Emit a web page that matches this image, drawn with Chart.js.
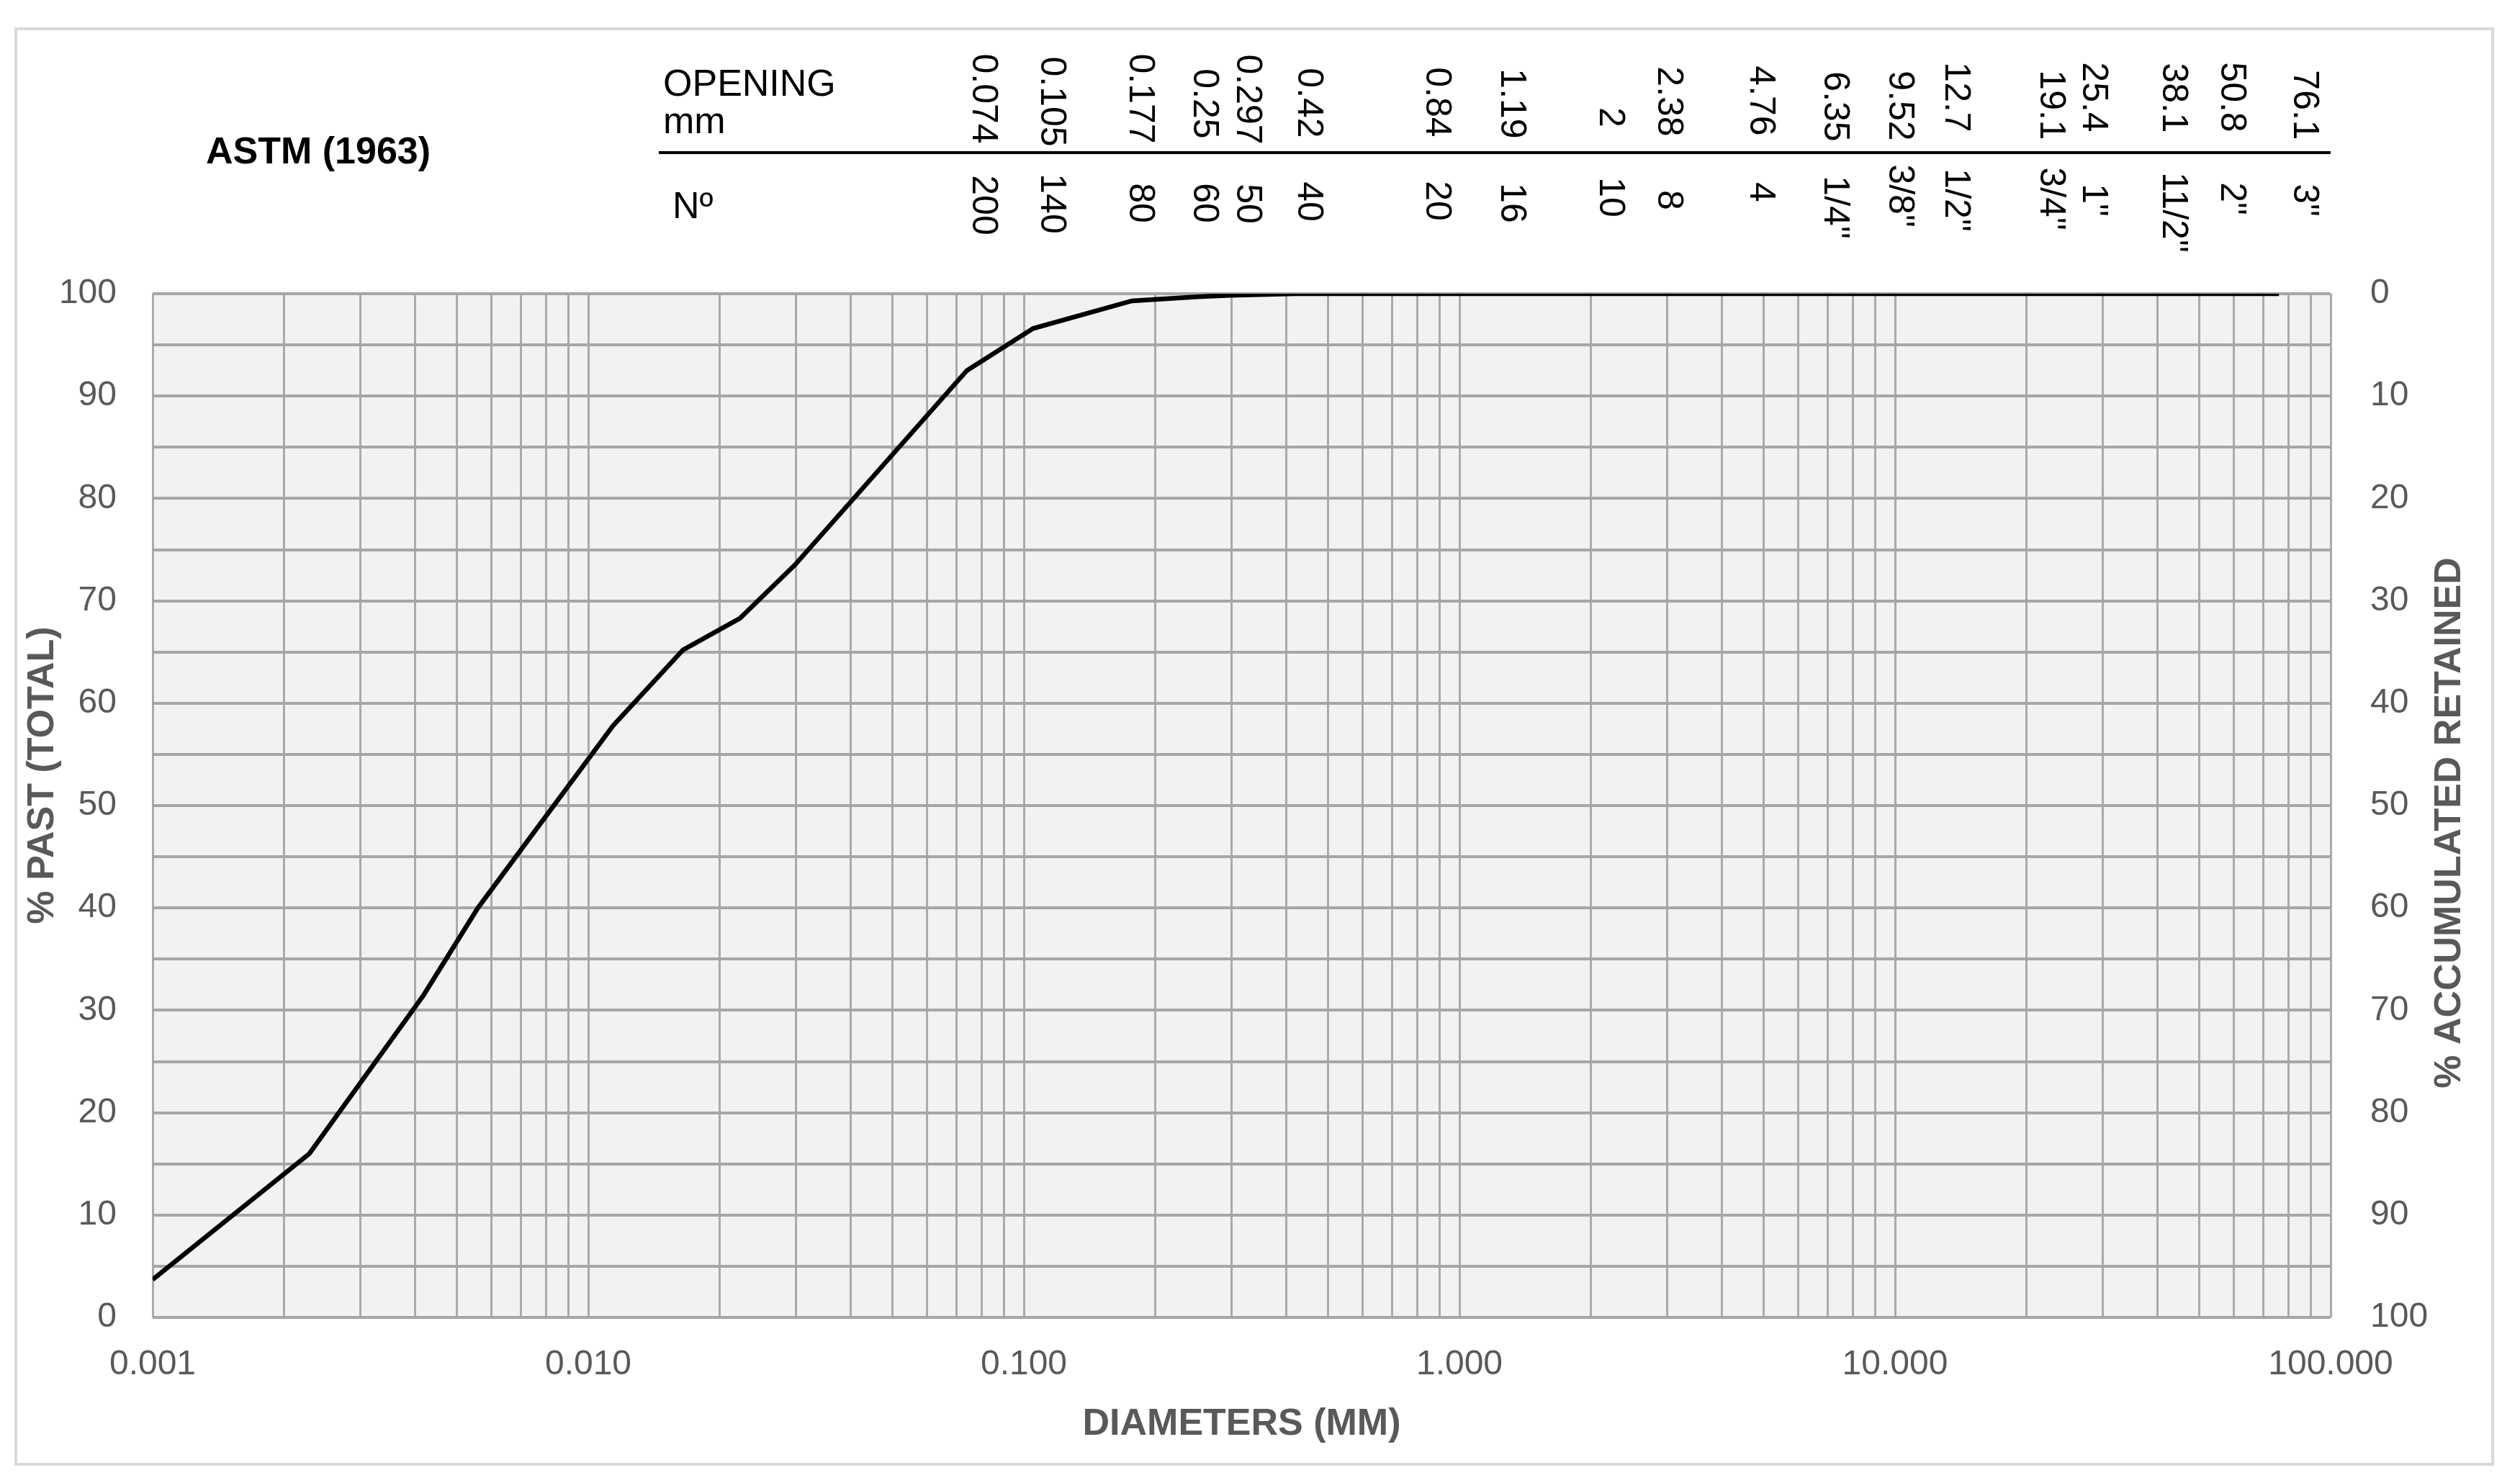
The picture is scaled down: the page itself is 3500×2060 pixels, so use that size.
<!DOCTYPE html>
<html>
<head>
<meta charset="utf-8">
<style>
  html, body { margin: 0; padding: 0; background: #fff; }
</style>
</head>
<body>
<canvas id="myChart" width="3500" height="2060"></canvas>

<script src="https://cdn.jsdelivr.net/npm/chart.js"></script>

<script>
// grading curve (diameter mm -> % passing)
const diameters = [0.001, 0.00229, 0.00419, 0.00558, 0.0114, 0.0165, 0.0223, 0.0298,
  0.074, 0.105, 0.177, 0.25, 0.297, 0.42, 0.84, 1.19, 2, 2.38, 4.76, 6.35, 9.52,
  12.7, 19.1, 25.4, 38.1, 50.8, 76.1];
const passing = [3.7, 16.0, 31.5, 40.0, 57.8, 65.2, 68.3, 73.5,
  92.5, 96.6, 99.3, 99.7, 99.85, 100, 100, 100, 100, 100, 100, 100, 100,
  100, 100, 100, 100, 100, 100];

// ASTM (1963) sieve table shown above the plot
const sieveOpenings = [0.074, 0.105, 0.177, 0.25, 0.297, 0.42, 0.84, 1.19, 2, 2.38,
  4.76, 6.35, 9.52, 12.7, 19.1, 25.4, 38.1, 50.8, 76.1];
const openingLabels = ['0.074', '0.105', '0.177', '0.25', '0.297', '0.42', '0.84', '1.19', '2', '2.38',
  '4.76', '6.35', '9.52', '12.7', '19.1', '25.4', '38.1', '50.8', '76.1'];
const sieveNumbers = ['200', '140', '80', '60', '50', '40', '20', '16', '10', '8',
  '4', '1/4"', '3/8"', '1/2"', '3/4"', '1"', '11/2"', '2"', '3"'];

// axis ticks
const xTickLabels = ['0.001', '0.010', '0.100', '1.000', '10.000', '100.000'];
const leftTickLabels = ['0', '10', '20', '30', '40', '50', '60', '70', '80', '90', '100'];
const rightTickLabels = ['0', '10', '20', '30', '40', '50', '60', '70', '80', '90', '100'];

const FONT = '"Liberation Sans", Arial, sans-serif';
const GREY = '#595959';
Chart.defaults.font.family = FONT;

// small shifts of the header text (px), like the hand-placed labels
const headerDx = [22, 25, 11, 9, 24, 18, 14, 26, 27, 62, 8, 35, 19, 21, 46, 30, 34, 40, 35];
const openingCy = [137, 141, 137, 144, 138, 143, 142, 144, 163, 141, 140, 148, 147, 135, 146, 135, 136, 135, 146];
const numberCy = [285, 283, 282, 282, 283, 280, 279, 282, 274, 278, 267, 288, 272, 278, 276, 278, 295, 276, 278];

const frame = {
  id: 'frame',
  beforeDraw(chart) {
    const { ctx, chartArea: a } = chart;
    ctx.save();
    ctx.fillStyle = '#fff';
    ctx.fillRect(0, 0, chart.width, chart.height);
    ctx.strokeStyle = '#d9d9d9';
    ctx.lineWidth = 4;
    ctx.strokeRect(22, 40, 3440, 1994);
    ctx.fillStyle = '#f2f2f2';
    ctx.fillRect(a.left, a.top, a.right - a.left, a.bottom - a.top);
    ctx.restore();
  }
};

const rotated = (ctx, text, x, y, angle) => {
  ctx.save();
  ctx.translate(x, y);
  ctx.rotate(angle);
  ctx.fillText(text, 0, 0);
  ctx.restore();
};

const header = {
  id: 'header',
  afterDraw(chart) {
    const { ctx, chartArea: a } = chart;
    const xs = chart.scales.x;
    ctx.save();
    ctx.fillStyle = '#000';

    ctx.font = 'bold 52px ' + FONT;
    ctx.textAlign = 'center';
    ctx.textBaseline = 'middle';
    ctx.fillText('ASTM (1963)', 442, 213);

    ctx.font = '52px ' + FONT;
    ctx.textAlign = 'left';
    ctx.textBaseline = 'alphabetic';
    ctx.fillText('OPENING', 921, 133);
    ctx.fillText('mm', 921, 185);
    ctx.fillText('Nº', 934, 303);

    ctx.strokeStyle = '#000';
    ctx.lineWidth = 4;
    ctx.beginPath();
    ctx.moveTo(915, 212);
    ctx.lineTo(a.right, 212);
    ctx.stroke();

    ctx.font = '50px ' + FONT;
    ctx.textAlign = 'center';
    ctx.textBaseline = 'middle';
    sieveOpenings.forEach((d, i) => {
      const x = xs.getPixelForValue(d) + headerDx[i];
      rotated(ctx, openingLabels[i], x, openingCy[i], Math.PI / 2);
      rotated(ctx, sieveNumbers[i], x, numberCy[i], Math.PI / 2);
    });

    // axis titles on the sides
    ctx.fillStyle = GREY;
    ctx.font = 'bold 52px ' + FONT;
    rotated(ctx, '% PAST (TOTAL)', 60, 1077, -Math.PI / 2);
    rotated(ctx, '% ACCUMULATED RETAINED', 3403, 1143, -Math.PI / 2);
    ctx.restore();
  }
};

const isDecade = v => Math.abs(Math.log10(v) - Math.round(Math.log10(v))) < 1e-9;

new Chart(document.getElementById('myChart'), {
  type: 'line',
  data: {
    datasets: [{
      data: diameters.map((d, i) => ({ x: d, y: passing[i] })),
      borderColor: '#000',
      borderWidth: 6.5,
      pointRadius: 0,
      tension: 0,
      fill: false,
      yAxisID: 'y'
    }]
  },
  options: {
    responsive: false,
    animation: false,
    devicePixelRatio: 1,
    layout: { padding: { top: 408, left: 0, right: 0, bottom: 0 } },
    plugins: {
      legend: { display: false },
      tooltip: { enabled: false }
    },
    scales: {
      x: {
        type: 'logarithmic',
        min: 0.001,
        max: 100,
        afterBuildTicks(scale) {
          const t = [];
          for (let e = -3; e <= 1; e++) {
            for (let m = 1; m <= 9; m++) t.push({ value: parseFloat((m * Math.pow(10, e)).toPrecision(6)) });
          }
          t.push({ value: 100 });
          scale.ticks = t;
        },
        afterFit(scale) { scale.height = 230; },
        grid: { color: '#aba9a9', lineWidth: 3, drawTicks: false },
        border: { display: false },
        ticks: {
          autoSkip: false,
          maxRotation: 0,
          minRotation: 0,
          padding: 37,
          color: GREY,
          font: { size: 48 },
          callback: v => isDecade(v) ? xTickLabels[Math.round(Math.log10(v)) + 3] : ''
        },
        title: {
          display: true,
          text: 'DIAMETERS (MM)',
          color: GREY,
          font: { size: 52, weight: 'bold' },
          padding: { top: 0, bottom: 50 }
        }
      },
      y: {
        position: 'left',
        min: 0,
        max: 100,
        afterFit(scale) { scale.width = 212; },
        grid: { color: '#a6a6a6', lineWidth: 4, drawTicks: false },
        border: { display: false },
        ticks: {
          stepSize: 5,
          padding: 50,
          color: GREY,
          font: { size: 48 },
          callback: v => v % 10 === 0 ? leftTickLabels[v / 10] : ''
        }
      },
      y2: {
        position: 'right',
        reverse: true,
        min: 0,
        max: 100,
        afterFit(scale) { scale.width = 263; },
        grid: { display: false, drawTicks: false },
        border: { display: false },
        ticks: {
          stepSize: 5,
          padding: 55,
          color: GREY,
          font: { size: 48 },
          callback: v => v % 10 === 0 ? rightTickLabels[v / 10] : ''
        }
      }
    }
  },
  plugins: [frame, header]
});
</script>
</body>
</html>
